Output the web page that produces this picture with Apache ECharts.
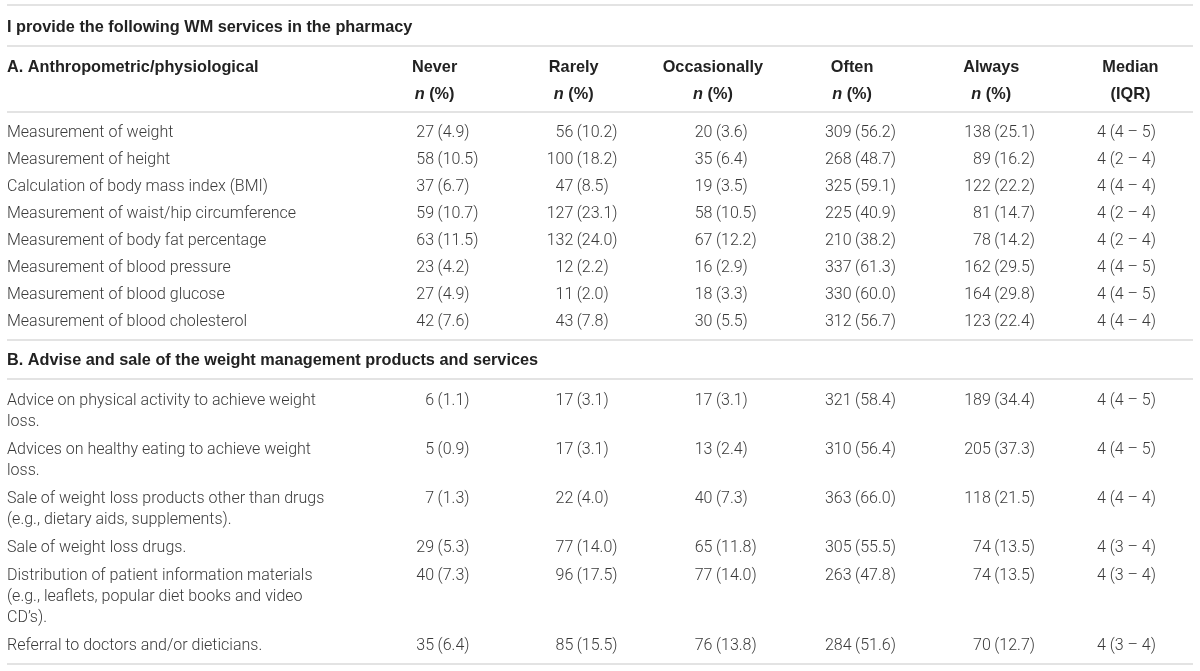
<!DOCTYPE html>
<html>
<head>
<meta charset="utf-8">
<script src="https://cdn.jsdelivr.net/npm/echarts@6/dist/echarts.min.js"></script>
<style>
  html, body { margin: 0; padding: 0; background: #fff; }
  #main { width: 1200px; height: 671px; }
</style>
</head>
<body>
<div id="main"></div>
<script>
// column headers
var columns = ['Never', 'Rarely', 'Occasionally', 'Often', 'Always', 'Median'];

// A. Anthropometric/physiological
var rowsA = [
  'Measurement of weight',
  'Measurement of height',
  'Calculation of body mass index (BMI)',
  'Measurement of waist/hip circumference',
  'Measurement of body fat percentage',
  'Measurement of blood pressure',
  'Measurement of blood glucose',
  'Measurement of blood cholesterol'
];
// counts per column: never, rarely, occasionally, often, always
var countsA = [
  [27, 58, 37, 59, 63, 23, 27, 42],
  [56, 100, 47, 127, 132, 12, 11, 43],
  [20, 35, 19, 58, 67, 16, 18, 30],
  [309, 268, 325, 225, 210, 337, 330, 312],
  [138, 89, 122, 81, 78, 162, 164, 123]
];
var pctA = [
  [4.9, 10.5, 6.7, 10.7, 11.5, 4.2, 4.9, 7.6],
  [10.2, 18.2, 8.5, 23.1, 24.0, 2.2, 2.0, 7.8],
  [3.6, 6.4, 3.5, 10.5, 12.2, 2.9, 3.3, 5.5],
  [56.2, 48.7, 59.1, 40.9, 38.2, 61.3, 60.0, 56.7],
  [25.1, 16.2, 22.2, 14.7, 14.2, 29.5, 29.8, 22.4]
];
var medianA = ['4 (4 – 5)', '4 (2 – 4)', '4 (4 – 4)', '4 (2 – 4)', '4 (2 – 4)', '4 (4 – 5)', '4 (4 – 5)', '4 (4 – 4)'];

// B. Advise and sale of the weight management products and services
var rowsB = [
  'Advice on physical activity to achieve weight\nloss.',
  'Advices on healthy eating to achieve weight\nloss.',
  'Sale of weight loss products other than drugs\n(e.g., dietary aids, supplements).',
  'Sale of weight loss drugs.',
  'Distribution of patient information materials\n(e.g., leaflets, popular diet books and video\nCD’s).',
  'Referral to doctors and/or dieticians.'
];
var countsB = [
  [6, 5, 7, 29, 40, 35],
  [17, 17, 22, 77, 96, 85],
  [17, 13, 40, 65, 77, 76],
  [321, 310, 363, 305, 263, 284],
  [189, 205, 118, 74, 74, 70]
];
var pctB = [
  [1.1, 0.9, 1.3, 5.3, 7.3, 6.4],
  [3.1, 3.1, 4.0, 14.0, 17.5, 15.5],
  [3.1, 2.4, 7.3, 11.8, 14.0, 13.8],
  [58.4, 56.4, 66.0, 55.5, 47.8, 51.6],
  [34.4, 37.3, 21.5, 13.5, 13.5, 12.7]
];
var medianB = ['4 (4 – 5)', '4 (4 – 5)', '4 (4 – 4)', '4 (3 – 4)', '4 (3 – 4)', '4 (3 – 4)'];

var bodyFont = "Roboto, 'Liberation Sans', sans-serif";
var headFont = "'Liberation Sans', Arial, sans-serif";
var bodyColor = '#3a3a3a';
var boldColor = '#222';
var headSize = 16.3;
var lineH = 21;   // line height inside a wrapped cell
var rowH = 28;    // height of a one-line row

// section B rows grow with their number of text lines
var offsetsB = [];
var acc = 0;
rowsB.forEach(function (s, i) {
  offsetsB.push(acc);
  acc += (s.split('\n').length - 1) * lineH + rowH;
});
var spanB = offsetsB[offsetsB.length - 1];

function buildCells(rows, counts, pct, median, yOf) {
  var cells = [];
  for (var r = 0; r < rows.length; r++) {
    for (var c = 0; c < columns.length; c++) {
      if (c < 5) {
        cells.push({ c: c, y: yOf(r), n: String(counts[c][r]), p: '(' + pct[c][r].toFixed(1) + ')' });
      } else {
        cells.push({ c: c, y: yOf(r), m: median[r] });
      }
    }
  }
  return cells;
}
var cellsA = buildCells(rowsA, countsA, pctA, medianA, function (r) { return r; });
var cellsB = buildCells(rowsB, countsB, pctB, medianB, function (r) { return offsetsB[r]; });

function textStyle(extra) {
  return Object.assign({ fontFamily: bodyFont, fontSize: 16, fontWeight: 300, fill: bodyColor, verticalAlign: 'middle' }, extra);
}

function cellRenderer(cells) {
  return function (params, api) {
    var cell = cells[params.dataIndex];
    var pt = api.coord([api.value(0), api.value(1)]);
    if (cell.m) {
      return { type: 'text', x: pt[0] - 4, y: pt[1], style: textStyle({ text: cell.m, align: 'center' }) };
    }
    return { type: 'group', children: [
      { type: 'text', x: pt[0] - 0.5, y: pt[1], style: textStyle({ text: cell.n, align: 'right' }) },
      { type: 'text', x: pt[0] + 3, y: pt[1], style: textStyle({ text: cell.p, align: 'left' }) }
    ] };
  };
}

function ruleLine(y) {
  return { type: 'line', shape: { x1: 7, y1: y, x2: 1193, y2: y },
    style: { stroke: '#dadada', lineWidth: 1.5 }, silent: true };
}
function headText(txt, y) {
  return { type: 'text', x: 7, y: y,
    style: { text: txt, fontFamily: headFont, fontSize: headSize, fontWeight: 'bold', fill: boldColor, verticalAlign: 'middle' } };
}

var myChart = echarts.init(document.getElementById('main'));
var option = {
  backgroundColor: '#fff',
  animation: false,
  grid: [
    { left: 365, width: 838, top: 119.5, height: 216 },
    { left: 365, width: 838, top: 400.5, height: spanB }
  ],
  xAxis: [
    {
      gridIndex: 0, type: 'category', data: columns, position: 'top',
      axisLine: { show: false }, axisTick: { show: false }, splitLine: { show: false },
      axisLabel: {
        margin: 11, interval: 0,
        formatter: function (v) {
          return '{b|' + v + '}\n' + (v === 'Median' ? '{b|(IQR)}' : '{i|n}{b| (%)}');
        },
        rich: {
          b: { fontFamily: headFont, fontSize: headSize, fontWeight: 'bold', color: boldColor, lineHeight: 27 },
          i: { fontFamily: headFont, fontSize: headSize, fontWeight: 'bold', fontStyle: 'italic', color: boldColor, lineHeight: 27 }
        }
      }
    },
    {
      gridIndex: 1, type: 'category', data: columns,
      axisLine: { show: false }, axisTick: { show: false }, axisLabel: { show: false }, splitLine: { show: false }
    }
  ],
  yAxis: [
    {
      gridIndex: 0, type: 'category', data: rowsA, inverse: true,
      axisLine: { show: false }, axisTick: { show: false }, splitLine: { show: false },
      axisLabel: { align: 'left', margin: 358, interval: 0, fontFamily: bodyFont, fontSize: 16, fontWeight: 300, color: bodyColor }
    },
    {
      gridIndex: 1, type: 'value', min: 0, max: spanB, inverse: true, show: false
    }
  ],
  series: [
    {
      type: 'custom', xAxisIndex: 0, yAxisIndex: 0,
      renderItem: cellRenderer(cellsA),
      data: cellsA.map(function (d) { return [d.c, d.y]; })
    },
    {
      type: 'custom', xAxisIndex: 1, yAxisIndex: 1,
      renderItem: cellRenderer(cellsB),
      data: cellsB.map(function (d) { return [d.c, d.y]; })
    },
    {
      // row labels of section B (wrapped, top aligned)
      type: 'custom', xAxisIndex: 1, yAxisIndex: 1,
      renderItem: function (params, api) {
        var pt = api.coord([0, api.value(1)]);
        return { type: 'text', x: params.coordSys.x - 358, y: pt[1] - lineH / 2,
          style: textStyle({ text: rowsB[params.dataIndex], align: 'left', verticalAlign: 'top', lineHeight: lineH }) };
      },
      data: offsetsB.map(function (o) { return [0, o]; })
    }
  ],
  graphic: [
    ruleLine(5), ruleLine(46), ruleLine(112), ruleLine(340), ruleLine(379), ruleLine(664),
    headText('I provide the following WM services in the pharmacy', 28),
    headText('A. Anthropometric/physiological', 68),
    headText('B. Advise and sale of the weight management products and services', 361)
  ]
};

if (option && typeof option === "object") {
    myChart.setOption(option, true);
}
</script>
</body>
</html>
